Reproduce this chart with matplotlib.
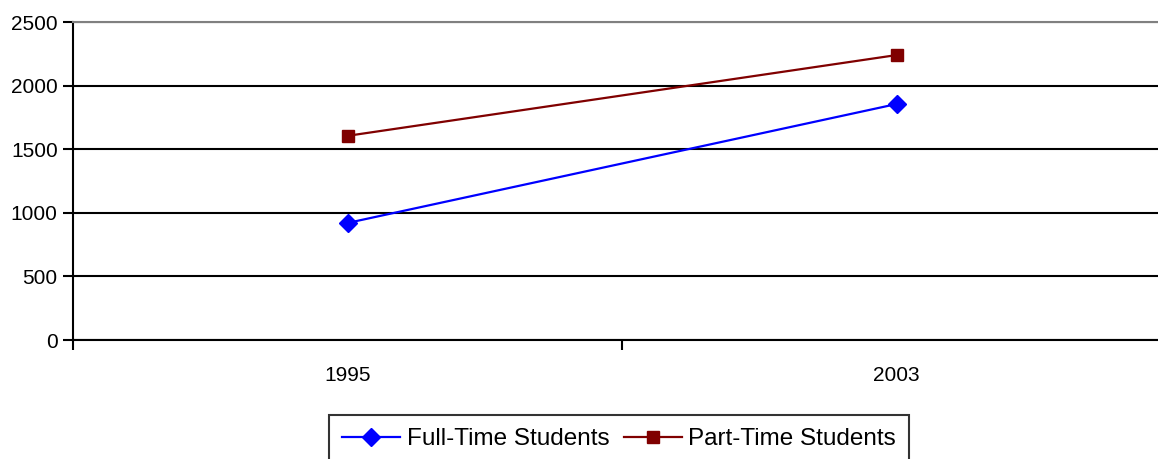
import matplotlib
matplotlib.use("Agg")
import matplotlib.pyplot as plt

# Student enrolment by year
years = ["1995", "2003"]
full_time = [920, 1855]
part_time = [1605, 2240]
y_ticks = [0, 500, 1000, 1500, 2000, 2500]

plt.rcParams['font.family'] = ['Liberation Sans', 'DejaVu Sans']

fig = plt.figure(figsize=(11.58, 4.59), dpi=100)
ax = fig.add_axes([73 / 1158, 119 / 459, 1098 / 1158, 318 / 459])

x = range(len(years))
ax.plot(x, full_time, color="#0000FF", marker="D", markersize=9, linewidth=1.6,
        label="Full-Time Students")
ax.plot(x, part_time, color="#800000", marker="s", markersize=9, linewidth=1.6,
        label="Part-Time Students")

ax.set_xlim(-0.5, len(years) - 0.5)
ax.set_ylim(0, 2500)
ax.set_yticks(y_ticks)
ax.yaxis.grid(True, color="black", linewidth=1.5)
ax.set_axisbelow(True)

# category labels centred, tick marks on category boundaries
ax.set_xticks([i - 0.5 for i in range(len(years) + 1)])
ax.set_xticklabels([])
ax.set_xticks(list(x), minor=True)
ax.set_xticklabels(years, minor=True)
ax.tick_params(axis="x", which="minor", length=0, pad=19, labelsize=15)
ax.tick_params(axis="x", which="major", length=7, width=1.5, direction="out")
ax.tick_params(axis="y", length=7, width=1.5, direction="out", labelsize=15, pad=4)

ax.spines["right"].set_visible(False)
ax.spines["top"].set_color("#808080")
ax.spines["top"].set_linewidth(1.5)
ax.spines["left"].set_linewidth(1.5)
ax.spines["bottom"].set_linewidth(1.5)

leg = fig.legend(loc="upper center", bbox_to_anchor=(619 / 1158, 44 / 459),
                 ncol=2, fontsize=17.5, frameon=True, fancybox=False,
                 edgecolor="black", handlelength=2.4, columnspacing=0.6,
                 handletextpad=0.25, borderpad=0.55, borderaxespad=0)
leg.get_frame().set_linewidth(1.5)

fig.savefig("out.png", dpi=100)
